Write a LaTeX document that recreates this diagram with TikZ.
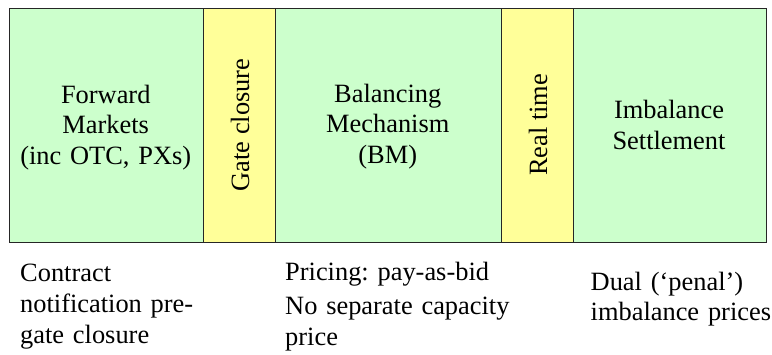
\documentclass[tikz,border=0pt]{standalone}
\usepackage{fontspec}
\setmainfont{Liberation Serif}
\frenchspacing
\begin{document}
\begin{tikzpicture}[x=1bp,y=-1bp,
  txt/.style={font=\fontsize{26.5}{31}\selectfont, inner sep=0pt},
  phase/.style={draw=black!85, line width=0.9bp, minimum height=234bp, inner sep=0pt, anchor=north west},
  market/.style={phase, fill=green!20},
  event/.style={phase, fill=yellow!40},
  caption/.style={txt, align=center, anchor=base},
  note/.style={txt, align=left, anchor=base west}]
\useasboundingbox (0,0) rectangle (772,354);
\definecolor{mkt}{HTML}{CCFFCC}
\definecolor{evt}{HTML}{FFFF99}
\tikzset{market/.append style={fill=mkt}, event/.append style={fill=evt}}

% Timeline of phases
\node[market, minimum width=193.5bp] (fwd)  at (9,7.5) {};
\node[event,  minimum width=72.5bp]  (gate) at (202.5,7.5) {};
\node[market, minimum width=225.5bp] (bm)   at (275,7.5) {};
\node[event,  minimum width=72bp]    (rt)   at (500.5,7.5) {};
\node[market, minimum width=193bp]   (imb)  at (572.5,7.5) {};

% Phase names
\node[caption, text width=190bp] (fwdT) at (105.75,103) {Forward\\Markets\\(inc OTC, PXs)};
\node[caption, text width=220bp] (bmT)  at (387.75,102) {Balancing\\Mechanism\\(BM)};
\node[caption, text width=190bp] (imbT) at (669,118.5) {Imbalance\\Settlement};
\node[txt, rotate=90] (gateT) at (240,125) {Gate closure};
\node[txt, rotate=90] (rtT)   at (538,125) {Real time};

% Notes under the timeline
\node[note, text width=240bp] (n1) at (20,281.5) {Contract\\notification pre-\\gate closure};
\node[note, text width=260bp] (n2) at (285,280) {Pricing: pay-as-bid\\[4bp]No separate capacity\\price};
\node[note, text width=190bp] (n3) at (590.5,290) {Dual (‘penal’)\\imbalance prices};
\end{tikzpicture}
\end{document}
